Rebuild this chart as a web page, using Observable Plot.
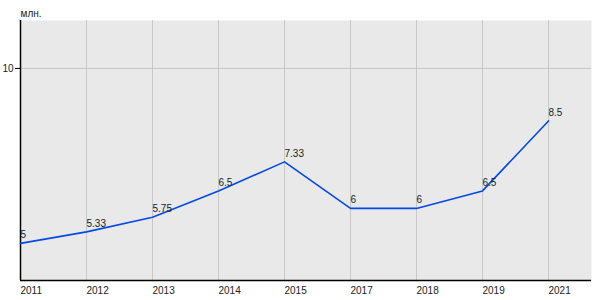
<!DOCTYPE html>
<html>
<head>
<meta charset="utf-8">
<script src="https://cdn.jsdelivr.net/npm/d3@7"></script>
<script src="https://cdn.jsdelivr.net/npm/@observablehq/plot@0.6"></script>
<style>
  body { margin: 0; background: white; }
</style>
</head>
<body>
<div id="chart"></div>
<script>
const years = ["2011","2012","2013","2014","2015","2017","2018","2019","2021"];
const values = [5, 5.33, 5.75, 6.5, 7.33, 6, 6, 6.5, 8.5];
const yTicks = [10];
const unitLabel = "млн.";

const data = years.map((y, i) => ({year: y, value: values[i]}));

const chart = Plot.plot({
  width: 600,
  height: 300,
  marginLeft: 20,
  marginRight: 9,
  marginTop: 20,
  marginBottom: 20,
  style: {fontFamily: "'Liberation Sans', Arial, sans-serif", fontSize: "10px", background: "white", color: "black"},
  x: {type: "point", domain: years, range: [20, 548], padding: 0},
  y: {domain: [3.94, 11.37]},
  marks: [
    Plot.frame({fill: "#e9e9e9", stroke: null}),
    Plot.ruleX(years, {stroke: "#c8c8c8", strokeWidth: 1}),
    Plot.ruleY(yTicks, {stroke: "#c8c8c8", strokeWidth: 1}),
    Plot.ruleX([years[0]], {stroke: "black", strokeWidth: 1.5}),
    Plot.ruleY([3.94], {stroke: "black", strokeWidth: 1.5}),
    Plot.axisX({ticks: years, tickSize: 0, tickPadding: 6, textAnchor: "start", label: null, fill: "#222"}),
    Plot.axisY({ticks: yTicks, tickSize: 5, tickPadding: 2, label: null, fill: "#222"}),
    Plot.text([unitLabel], {frameAnchor: "top-left", lineAnchor: "middle", dy: -7, textAnchor: "start", fill: "#222"}),
    Plot.line(data, {x: "year", y: "value", stroke: "#004ae6", strokeWidth: 1.6}),
    Plot.text(data, {x: "year", y: "value", text: d => String(d.value), textAnchor: "start", lineAnchor: "bottom", dy: -5, fill: "#222"})
  ]
});
document.getElementById("chart").appendChild(chart);
</script>
</body>
</html>
